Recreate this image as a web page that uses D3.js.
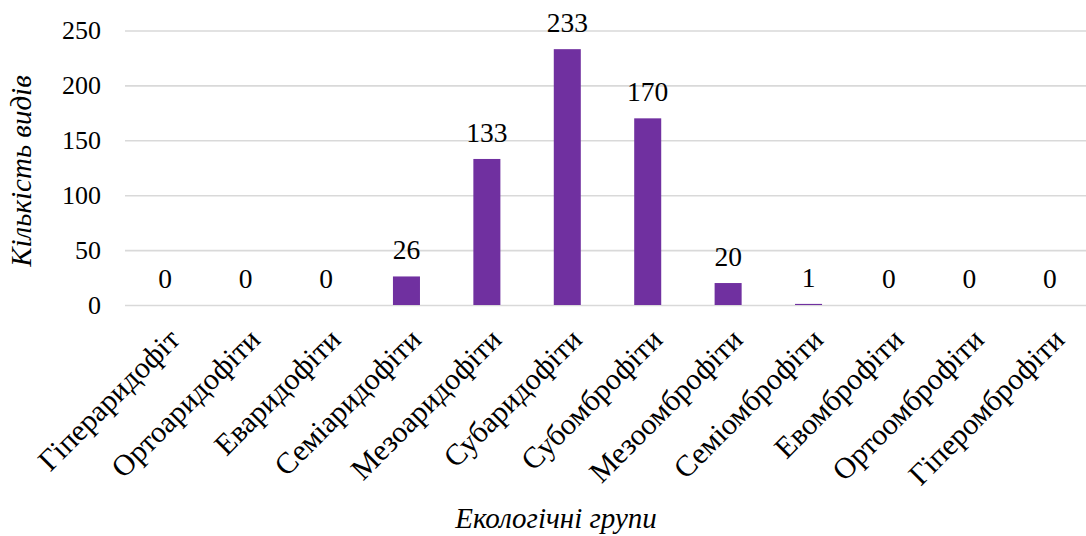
<!DOCTYPE html>
<html>
<head>
<meta charset="utf-8">
<script src="https://cdn.jsdelivr.net/npm/d3@7"></script>
<style>
  html, body { margin: 0; padding: 0; background: #fff; }
  svg { display: block; }
  svg text { font-family: "Liberation Serif", "Times New Roman", serif; fill: #000; }
</style>
</head>
<body>
<svg id="chart" width="1086" height="536" font-family="Liberation Serif, serif"></svg>
<script>
// Ecological groups and species counts
const categories = [
  "Гіпераридофіт", "Ортоаридофіти", "Еваридофіти", "Семіаридофіти",
  "Мезоаридофіти", "Субаридофіти", "Субомброфіти", "Мезоомброфіти",
  "Семіомброфіти", "Евомброфіти", "Ортоомброфіти", "Гіперомброфіти"
];
const counts = [0, 0, 0, 26, 133, 233, 170, 20, 1, 0, 0, 0];
const yTicks = [0, 50, 100, 150, 200, 250];
const yTitle = "Кількість видів";
const xTitle = "Екологічні групи";

const svg = d3.select("#chart");
const plot = { left: 125, right: 1090, top: 30.5, bottom: 305 };

const x = d3.scaleBand()
  .domain(categories)
  .range([plot.left, plot.right])
  .paddingInner(0.664)
  .paddingOuter(0.332);

const y = d3.scaleLinear()
  .domain([0, 250])
  .range([plot.bottom, plot.top]);

// Horizontal gridlines with tick labels
const yAxis = d3.axisLeft(y)
  .tickValues(yTicks)
  .tickSize(-(plot.right - plot.left))
  .tickPadding(24)
  .tickFormat(d3.format("d"));

const gy = svg.append("g")
  .attr("transform", `translate(${plot.left},0)`)
  .call(yAxis)
  .attr("font-family", null)
  .attr("font-size", null);
gy.select(".domain").remove();
gy.selectAll(".tick line")
  .attr("stroke", "#d9d9d9")
  .attr("stroke-width", 1.6);
gy.selectAll(".tick text")
  .attr("font-size", 26)
  .attr("fill", "#000");

// Bars
svg.append("g")
  .selectAll("rect")
  .data(counts)
  .join("rect")
  .attr("x", (d, i) => x(categories[i]))
  .attr("width", x.bandwidth())
  .attr("y", d => y(d))
  .attr("height", d => y(0) - y(d))
  .attr("fill", "#7030a0");

// Value labels above bars
svg.append("g")
  .selectAll("text")
  .data(counts)
  .join("text")
  .attr("x", (d, i) => x(categories[i]) + x.bandwidth() / 2)
  .attr("y", d => y(d) - 17)
  .attr("text-anchor", "middle")
  .attr("font-size", 27.5)
  .text(d => d);

// Category labels rotated along the x axis
const xAxis = d3.axisBottom(x).tickSize(0).tickPadding(0);
const gx = svg.append("g")
  .attr("transform", `translate(0,${plot.bottom})`)
  .call(xAxis)
  .attr("font-family", null)
  .attr("font-size", null);
gx.select(".domain").remove();
gx.selectAll(".tick text")
  .attr("font-size", 30)
  .attr("fill", "#000")
  .attr("text-anchor", "end")
  .attr("dy", "0.72em")
  .attr("transform", "translate(1,21) rotate(-45)");

// Axis titles
svg.append("text")
  .attr("transform", `translate(31,171) rotate(-90)`)
  .attr("text-anchor", "middle")
  .attr("font-size", 29)
  .attr("font-style", "italic")
  .text(yTitle);

svg.append("text")
  .attr("x", 556)
  .attr("y", 528)
  .attr("text-anchor", "middle")
  .attr("font-size", 29)
  .attr("font-style", "italic")
  .text(xTitle);
</script>
</body>
</html>
